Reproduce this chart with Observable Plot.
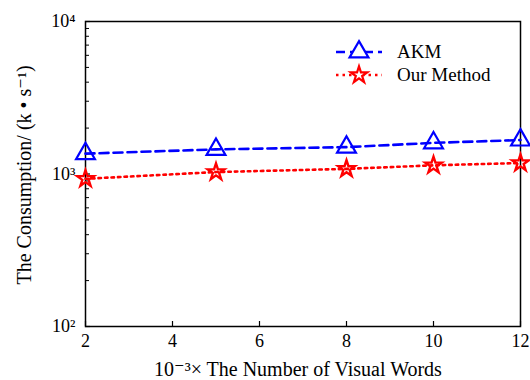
<!DOCTYPE html>
<html>
<head>
<meta charset="utf-8">
<script src="https://cdn.jsdelivr.net/npm/d3@7"></script>
<script src="https://cdn.jsdelivr.net/npm/@observablehq/plot@0.6"></script>
<style>
  html, body { margin: 0; padding: 0; background: #fff; }
  #chart { width: 530px; height: 380px; }
</style>
</head>
<body>
<div id="chart"></div>
<script>
// ---- data ----
const wordsK = [2, 5, 8, 10, 12];
const akm = [1360, 1450, 1500, 1600, 1670];
const ours = [930, 1030, 1080, 1140, 1180];
const seriesNames = ["AKM", "Our Method"];
const xTicks = [2, 4, 6, 8, 10, 12];
const yMajor = [100, 1000, 10000];
const yMinor = [200, 300, 400, 500, 600, 700, 800, 900, 2000, 3000, 4000, 5000, 6000, 7000, 8000, 9000];
const yLabels = ["10²", "10³", "10⁴"];
const xLabel = "10⁻³× The Number of Visual Words";
const yLabel = "The Consumption/ (k • s⁻¹)";

const colors = ["#0000ff", "#ff0000"];
const dashes = ["9,5", "2.5,4"];

const rows = [];
wordsK.forEach((x, i) => {
  rows.push({x, y: akm[i], s: seriesNames[0]});
  rows.push({x, y: ours[i], s: seriesNames[1]});
});

const FONT = "'Liberation Serif', 'DejaVu Serif', serif";

const plot = Plot.plot({
  width: 530,
  height: 380,
  marginLeft: 85,
  marginRight: 10,
  marginTop: 21,
  marginBottom: 54,
  style: {fontFamily: FONT, background: "#fff", overflow: "visible"},
  x: {domain: [2, 12]},
  y: {type: "log", domain: [100, 10000]},
  marks: [
    Plot.axisX(xTicks, {tickSize: -5, text: null, strokeWidth: 1.2, label: null}),
    Plot.axisX(xTicks, {tickSize: 0, tickPadding: 8, tickFormat: d => String(d), label: null}),
    Plot.axisY(yMajor, {tickSize: -5, text: null, strokeWidth: 1.2, label: null}),
    Plot.axisY(yMinor, {tickSize: -4, text: null, strokeWidth: 1, label: null}),
    Plot.axisY(yMajor, {tickSize: 0, tickPadding: 10, tickFormat: d => yLabels[yMajor.indexOf(d)], label: null}),
    Plot.frame({stroke: "#000", strokeWidth: 1.5}),
    ...seriesNames.map((name, k) =>
      Plot.line(rows.filter(r => r.s === name), {
        x: "x", y: "y", stroke: colors[k], strokeWidth: 2.6, strokeDasharray: dashes[k]
      })
    ),
    Plot.dot(rows.filter(r => r.s === seriesNames[0]), {
      x: "x", y: "y", symbol: "triangle", r: 7, stroke: colors[0], strokeWidth: 2.2, fill: "none"
    }),
    Plot.dot(rows.filter(r => r.s === seriesNames[1]), {
      x: "x", y: "y", symbol: "star", r: 5.2, stroke: colors[1], strokeWidth: 2.4, fill: "none"
    })
  ]
});

document.getElementById("chart").appendChild(plot);

const svg = d3.select(plot);
// tick labels (the only text drawn so far)
svg.selectAll("text")
  .style("font-size", "18px").style("font-family", FONT).attr("fill", "#000");

// axis titles
svg.append("text")
  .attr("x", 298).attr("y", 376)
  .attr("text-anchor", "middle")
  .style("font-size", "20px").style("font-family", FONT)
  .attr("fill", "#000")
  .text(xLabel);
svg.append("text")
  .attr("transform", "translate(31,175) rotate(-90)")
  .attr("text-anchor", "middle")
  .style("font-size", "20px").style("font-family", FONT)
  .attr("fill", "#000")
  .text(yLabel);

// legend
const leg = svg.append("g");
seriesNames.forEach((name, k) => {
  const y = 52 + k * 23;
  leg.append("line")
    .attr("x1", 336).attr("x2", 382).attr("y1", y).attr("y2", y)
    .attr("stroke", colors[k]).attr("stroke-width", 2.6)
    .attr("stroke-dasharray", dashes[k]);
  const sym = k === 0 ? d3.symbolTriangle : d3.symbolStar;
  const size = k === 0 ? Math.PI * 7 * 7 : Math.PI * 5.2 * 5.2;
  leg.append("path")
    .attr("transform", `translate(359,${y})`)
    .attr("d", d3.symbol(sym, size)())
    .attr("fill", "#fff")
    .attr("stroke", colors[k]).attr("stroke-width", 2.2);
  leg.append("text")
    .attr("x", 397).attr("y", y + 6)
    .attr("text-anchor", "start")
    .style("font-size", "19px").style("font-family", FONT)
    .attr("fill", "#000")
    .text(name);
});
</script>
</body>
</html>
